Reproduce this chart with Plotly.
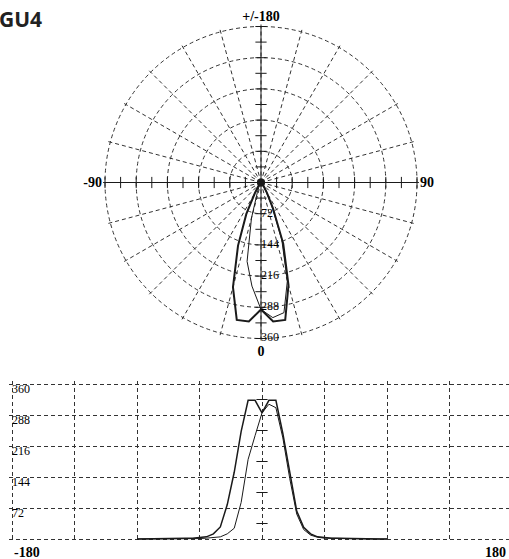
import plotly.graph_objects as go

# ---- data ----
angles = list(range(-90, 95, 5))
curve_a = [0, 0, 0, 0.5, 0.5, 1, 1, 1.5, 2, 3, 5, 12, 28, 80, 155, 250, 322, 322,
           293, 322, 322, 245, 150, 65, 27, 12, 5, 3, 2, 1.5, 1, 1, 0.5, 0.5, 0, 0, 0]
curve_b = [0, 0, 0, 0, 0, 0.5, 0.5, 1, 1, 1, 2, 3, 5, 12, 25, 85, 185, 240,
           293, 313, 305, 235, 140, 58, 22, 9, 4, 2, 1.5, 1, 1, 0.5, 0.5, 0, 0, 0, 0]
radial_ticks = [72, 144, 216, 288, 360]
axis_ticks = [36, 72, 108, 144, 180, 216, 252, 288, 324, 360]
x_grid = [-180, -135, -90, -45, 0, 45, 90, 135, 180]
y_grid = [0, 72, 144, 216, 288, 360]
y_label_vals = [72, 144, 216, 288, 360]
center_ticks = [36, 108, 180, 252, 324]
ang_ticks = list(range(0, 360, 15))
ang_labels = {0: "<b>0</b>", 90: "<b>90</b>", 180: "<b>+/-180</b>", 270: "<b>-90</b>"}

W, H = 509, 559
INK = "#1a1a1a"
GRID = "#333333"
DASH = "4px,3px"
SERIF = "Liberation Serif"

fig = go.Figure()

# polar cross axes
fig.add_trace(go.Scatterpolar(r=[360, 0, 360], theta=[0, 0, 180], mode="lines",
                              line=dict(color=INK, width=1), subplot="polar", showlegend=False))
fig.add_trace(go.Scatterpolar(r=[360, 0, 360], theta=[90, 90, 270], mode="lines",
                              line=dict(color=INK, width=1), subplot="polar", showlegend=False))
fig.add_trace(go.Scatterpolar(r=axis_ticks + axis_ticks, theta=[0] * 10 + [180] * 10, mode="markers",
                              marker=dict(symbol="line-ew", size=8, line=dict(color=INK, width=1)),
                              subplot="polar", showlegend=False))
fig.add_trace(go.Scatterpolar(r=axis_ticks + axis_ticks, theta=[90] * 10 + [270] * 10, mode="markers",
                              marker=dict(symbol="line-ns", size=8, line=dict(color=INK, width=1)),
                              subplot="polar", showlegend=False))
# polar curves
fig.add_trace(go.Scatterpolar(r=curve_b, theta=angles, mode="lines",
                              line=dict(color=INK, width=1), subplot="polar", showlegend=False))
fig.add_trace(go.Scatterpolar(r=curve_a, theta=angles, mode="lines",
                              line=dict(color=INK, width=2), subplot="polar", showlegend=False))
fig.add_trace(go.Scatterpolar(r=[0], theta=[0], mode="markers",
                              marker=dict(color=INK, size=8), subplot="polar", showlegend=False))
# radial labels
fig.add_trace(go.Scatterpolar(r=radial_ticks, theta=[0] * 5, mode="text",
                              text=[str(v) for v in radial_ticks], textposition="middle right",
                              textfont=dict(family=SERIF, size=12, color="black"),
                              subplot="polar", showlegend=False, cliponaxis=False))

# cartesian chart
fig.add_trace(go.Scatter(x=[0] * len(center_ticks), y=center_ticks, mode="markers",
                         marker=dict(symbol="line-ew", size=8, line=dict(color=INK, width=1)),
                         showlegend=False, xaxis="x", yaxis="y"))
fig.add_trace(go.Scatter(x=angles, y=curve_b, mode="lines", line=dict(color=INK, width=1),
                         showlegend=False))
fig.add_trace(go.Scatter(x=angles, y=curve_a, mode="lines", line=dict(color=INK, width=1.5),
                         showlegend=False))
fig.add_trace(go.Scatter(x=[-180] * len(y_label_vals), y=y_label_vals, mode="text",
                         text=[str(v) for v in y_label_vals], textposition="bottom right",
                         marker=dict(size=12),
                         textfont=dict(family=SERIF, size=12, color="black"),
                         showlegend=False, cliponaxis=False))

cx, cy, R360 = 261, 182.5, 156
RMAX = 366
R = R360 * RMAX / 360
PAD = 3
deg_px = 0.72
val_px = 360 / 155
fig.update_layout(
    width=W, height=H,
    margin=dict(l=0, r=0, t=0, b=0),
    paper_bgcolor="white", plot_bgcolor="white",
    polar=dict(
        domain=dict(x=[(cx - R) / W, (cx + R) / W], y=[1 - (cy + R) / H, 1 - (cy - R) / H]),
        bgcolor="white",
        radialaxis=dict(range=[0, RMAX], tickmode="array", tickvals=radial_ticks,
                        showticklabels=False, ticks="", showline=False,
                        showgrid=True, gridcolor=GRID, griddash=DASH, gridwidth=1),
        angularaxis=dict(rotation=-90, direction="counterclockwise", tickmode="array",
                         tickvals=ang_ticks, ticktext=[ang_labels.get(t, "") for t in ang_ticks],
                         ticks="", showline=False, showgrid=True, gridcolor=GRID,
                         griddash=DASH, gridwidth=1,
                         tickfont=dict(family=SERIF, size=14, color="black")),
    ),
    xaxis=dict(domain=[(12 - PAD) / W, 1],
               range=[-180 - PAD * deg_px, -180 + (W - 12) * deg_px], tickmode="array",
               tickvals=x_grid, showticklabels=False, showgrid=True, gridcolor=GRID, gridwidth=1,
               griddash=DASH, zeroline=False, showline=False, ticks=""),
    yaxis=dict(domain=[1 - (539 + PAD) / H, 1 - (384 - PAD) / H],
               range=[-PAD * val_px, 360 + PAD * val_px], tickmode="array",
               tickvals=y_grid, showticklabels=False,
               showgrid=True, gridcolor=GRID, griddash=DASH,
               zeroline=False, showline=False, ticks=""),
    annotations=[
        dict(text="<b>GU4</b>", xref="paper", yref="paper", x=0, y=1, xanchor="left", yanchor="top",
             xshift=-3, yshift=-3, showarrow=False, font=dict(family="Open Sans", size=21, color="#222")),
        dict(text="<b>-180</b>", xref="paper", yref="paper", x=12 / W, y=1 - 552 / H,
             xanchor="left", yanchor="middle", showarrow=False,
             font=dict(family=SERIF, size=14, color="black")),
        dict(text="<b>180</b>", xref="paper", yref="paper", x=1, y=1 - 552 / H,
             xanchor="right", yanchor="middle", xshift=-1, showarrow=False,
             font=dict(family=SERIF, size=14, color="black")),
    ],
)

fig.write_html("out.html", config={"displayModeBar": False},
               post_script="document.body.style.margin='0';document.body.style.padding='0';")
